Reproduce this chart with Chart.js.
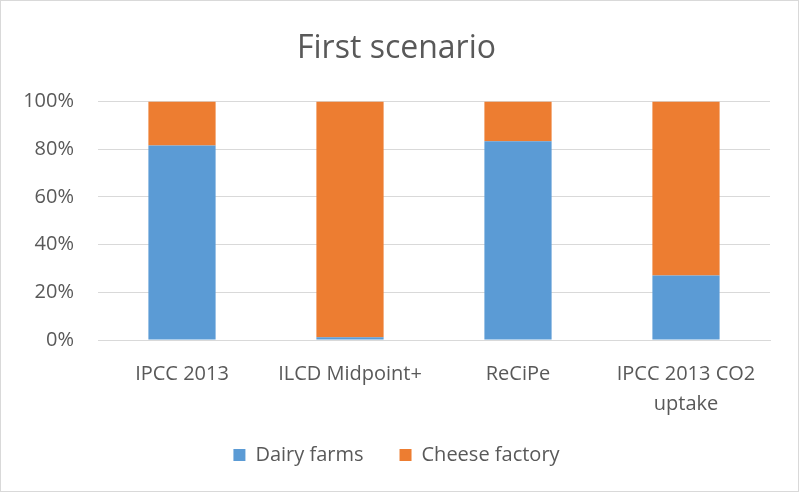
<!DOCTYPE html>
<html>
<head>
<meta charset="utf-8">
<script src="https://cdn.jsdelivr.net/npm/chart.js@4"></script>
<style>
    html, body { margin: 0; padding: 0; background: #fff; }
    #wrap { position: relative; width: 797px; height: 490px; border: 1px solid #d9d9d9; }
</style>
</head>
<body>
<div id="wrap"><canvas id="myChart"></canvas></div>
<script>
const categories = ['IPCC 2013', 'ILCD Midpoint+', 'ReCiPe', ['IPCC 2013 CO2', 'uptake']];
const dairyFarms = [81.5, 1.2, 83.3, 27.0];
const cheeseFactory = [18.5, 98.8, 16.7, 73.0];
const yTicks = [0, 20, 40, 60, 80, 100];

const font = "'Open Sans', sans-serif";
const grey = '#595959';

const ctx = document.getElementById('myChart').getContext('2d');

window.myChart = new Chart(ctx, {
    type: 'bar',
    data: {
        labels: categories,
        datasets: [
            {
                label: 'Dairy farms',
                backgroundColor: '#5B9BD5',
                data: dairyFarms,
            },
            {
                label: 'Cheese factory',
                backgroundColor: '#ED7D31',
                data: cheeseFactory,
            },
        ],
    },
    options: {
        responsive: true,
        maintainAspectRatio: false,
        animation: false,
        datasets: {
            bar: { categoryPercentage: 1, barPercentage: 0.4 },
        },
        layout: {
            padding: { top: 0, left: 22, right: 28, bottom: 16 },
        },
        scales: {
            x: {
                stacked: true,
                grid: { display: false, drawTicks: false },
                border: { color: '#d9d9d9' },
                ticks: {
                    color: grey,
                    font: { family: font, size: 20, lineHeight: 1.5 },
                    padding: 19,
                    maxRotation: 0,
                    autoSkip: false,
                },
                afterFit: (axis) => {
                    axis.height -= 3;
                },
            },
            y: {
                stacked: true,
                min: 0,
                max: 100,
                afterBuildTicks: (axis) => {
                    axis.ticks = yTicks.map((v) => ({ value: v }));
                },
                afterFit: (axis) => {
                    axis.width = 75;
                },
                grid: { color: '#d9d9d9', drawTicks: false },
                border: { display: false },
                ticks: {
                    color: grey,
                    font: { family: font, size: 20 },
                    padding: 24,
                    callback: (v) => v + '%',
                },
            },
        },
        plugins: {
            title: {
                display: true,
                text: 'First scenario',
                color: grey,
                font: { family: font, size: 32, weight: 'normal', lineHeight: 1.2 },
                padding: { top: 29, bottom: 33 },
            },
            legend: {
                position: 'bottom',
                labels: {
                    color: grey,
                    font: { family: font, size: 20 },
                    boxWidth: 12,
                    boxHeight: 12,
                    padding: 10,
                    // a little more room between the two entries
                    generateLabels: (chart) => {
                        const items = Chart.defaults.plugins.legend.labels.generateLabels(chart);
                        items[0].text += '     ';
                        return items;
                    },
                },
            },
            tooltip: { enabled: false },
        },
    },
});
</script>
</body>
</html>
